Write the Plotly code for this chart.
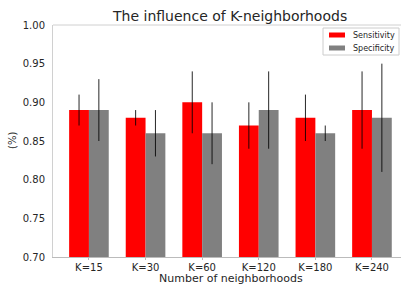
import plotly.graph_objects as go

categories = ["K=15", "K=30", "K=60", "K=120", "K=180", "K=240"]
sensitivity = [0.89, 0.88, 0.90, 0.87, 0.88, 0.89]
sensitivity_err = [0.02, 0.01, 0.04, 0.03, 0.03, 0.05]
specificity = [0.89, 0.86, 0.86, 0.89, 0.86, 0.88]
specificity_err = [0.04, 0.03, 0.04, 0.05, 0.01, 0.07]
y_ticks = [0.70, 0.75, 0.80, 0.85, 0.90, 0.95, 1.00]

FONT = "DejaVu Sans"
TXT = "#262626"
RED = "#ff0000"
GRAY = "#808080"

L, R, T, B = 53, 0, 25, 27
W, H = 401, 284
PW, PH = W - L - R, H - T - B


def px(x):
    return (x - L) / PW


def py(y):
    return (H - B - y) / PH


fig = go.Figure()
fig.add_trace(go.Bar(
    x=categories, y=sensitivity, name="Sensitivity",
    marker=dict(color=RED, line=dict(width=0)),
    error_y=dict(type="data", array=sensitivity_err, visible=True,
                 color="rgba(0,0,0,0.85)", thickness=1, width=0),
))
fig.add_trace(go.Bar(
    x=categories, y=specificity, name="Specificity",
    marker=dict(color=GRAY, line=dict(width=0)),
    error_y=dict(type="data", array=specificity_err, visible=True,
                 color="rgba(0,0,0,0.85)", thickness=1, width=0),
))

shapes = [
    # top spine
    dict(type="line", xref="paper", yref="paper", x0=0, x1=1, y0=1, y1=1,
         line=dict(color="#d0d0d0", width=1)),
    # legend frame
    dict(type="rect", xref="paper", yref="paper", x0=px(323), x1=px(399), y0=py(55), y1=py(28),
         line=dict(color="#cccccc", width=1), fillcolor="rgba(255,255,255,0.8)"),
    dict(type="rect", xref="paper", yref="paper", x0=px(329), x1=px(345), y0=py(37.5), y1=py(32.5),
         line=dict(width=0), fillcolor=RED),
    dict(type="rect", xref="paper", yref="paper", x0=px(329), x1=px(345), y0=py(50.5), y1=py(45.5),
         line=dict(width=0), fillcolor=GRAY),
]

annotations = [
    dict(text="The influence of K-neighborhoods", xref="paper", yref="paper",
         x=px(229), y=py(16), xanchor="center", yanchor="middle", showarrow=False,
         font=dict(family=FONT, size=14, color=TXT)),
    dict(text="Number of neighborhoods", xref="paper", yref="paper",
         x=px(231), y=py(278.5), xanchor="center", yanchor="middle", showarrow=False,
         font=dict(family=FONT, size=11, color=TXT)),
    dict(text="(%)", xref="paper", yref="paper", x=px(12), y=py(141),
         xanchor="center", yanchor="middle", textangle=-90, showarrow=False,
         font=dict(family=FONT, size=10, color=TXT)),
    dict(text="Sensitivity", xref="paper", yref="paper", x=px(351), y=py(35),
         xanchor="left", yanchor="middle", showarrow=False,
         font=dict(family=FONT, size=8, color=TXT)),
    dict(text="Specificity", xref="paper", yref="paper", x=px(351), y=py(48),
         xanchor="left", yanchor="middle", showarrow=False,
         font=dict(family=FONT, size=8, color=TXT)),
]

fig.update_layout(
    width=W, height=H,
    margin=dict(l=L, r=R, t=T, b=B, autoexpand=False),
    paper_bgcolor="white", plot_bgcolor="white",
    barmode="group", bargap=0.3, bargroupgap=0,
    font=dict(family=FONT, size=10, color=TXT),
    showlegend=False,
    xaxis=dict(range=[-0.635, 5.513], showgrid=False, zeroline=False, automargin=False,
               showline=True, linecolor="#bbbbbb", linewidth=1, mirror=False,
               ticks="outside", ticklen=2, tickcolor="#bbbbbb", ticklabelstandoff=-1,
               tickfont=dict(family=FONT, size=10, color=TXT)),
    yaxis=dict(range=[0.70, 1.00], tickvals=y_ticks, tickformat=".2f", automargin=False,
               showgrid=False, zeroline=False,
               showline=True, linecolor="#d0d0d0", linewidth=1,
               ticks="", ticklen=0, ticklabelstandoff=5,
               tickfont=dict(family=FONT, size=10, color=TXT)),
    shapes=shapes,
    annotations=annotations,
)

fig.write_html(
    "out.html",
    config={"displayModeBar": False},
    post_script="document.body.style.margin='0';document.body.style.overflow='hidden';",
)
